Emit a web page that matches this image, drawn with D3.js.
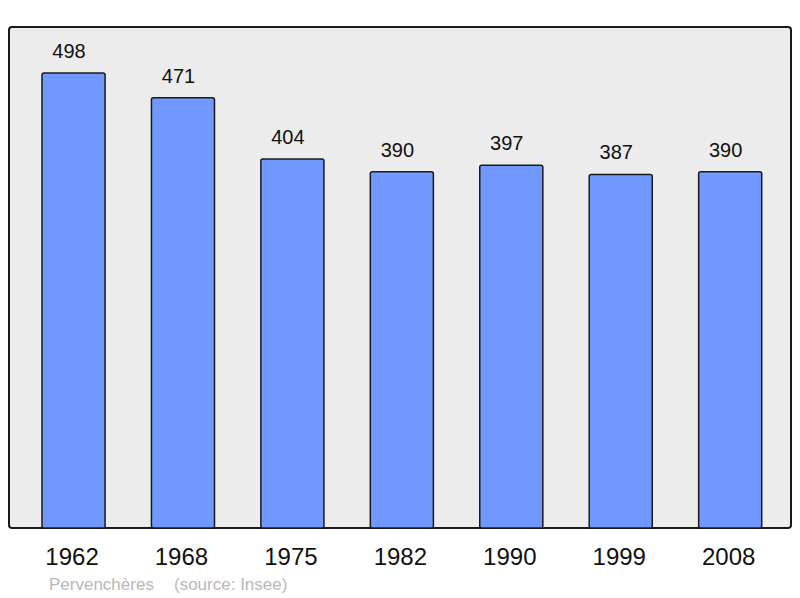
<!DOCTYPE html>
<html><head><meta charset="utf-8">
<script src="https://cdn.jsdelivr.net/npm/d3@7"></script>
<style>body{margin:0;background:#fff}svg{display:block}</style>
</head><body>
<script>
const years = ["1962","1968","1975","1982","1990","1999","2008"];
const population = [498, 471, 404, 390, 397, 387, 390];
const commune = "Pervenchères";
const source = "(source: Insee)";

const W = 800, H = 598;
const svg = d3.select("body").append("svg").attr("width", W).attr("height", H);
const font = "'Liberation Sans', Arial, sans-serif";

const plot = {x0: 9, y0: 27, x1: 791, y1: 528};
svg.append("rect").attr("x", plot.x0).attr("y", plot.y0)
  .attr("width", plot.x1 - plot.x0).attr("height", plot.y1 - plot.y0)
  .attr("rx", 3).attr("fill", "#ececec").attr("stroke", "#1a1a1a").attr("stroke-width", 2);

const x = d3.scaleBand().domain(years).range([18.8, 784.9]).paddingInner(0.4238).paddingOuter(0.2119);
const y = d3.scaleLinear().domain([0, 498]).range([528, 73]);

const data = years.map((yr, i) => ({yr, v: population[i]}));

svg.append("g").selectAll("rect").data(data).join("rect")
  .attr("x", d => x(d.yr)).attr("y", d => y(d.v))
  .attr("width", x.bandwidth()).attr("height", d => y(0) - y(d.v))
  .attr("rx", 2)
  .attr("fill", "#7098ff").attr("stroke", "#1a1a1a").attr("stroke-width", 1.5);

svg.append("g").selectAll("text").data(data).join("text")
  .attr("x", d => x(d.yr) + x.bandwidth() / 2 - 4.5).attr("y", d => y(d.v) - 15)
  .attr("text-anchor", "middle").attr("font-family", font).attr("font-size", 20)
  .attr("fill", "#111").text(d => d.v);

const xAxis = svg.append("g").attr("transform", `translate(-1.5,${plot.y1})`)
  .call(d3.axisBottom(x).tickSize(0).tickPadding(0));
xAxis.select(".domain").remove();
xAxis.selectAll("text").attr("font-family", font).attr("font-size", 24).attr("fill", "#111")
  .attr("y", 37).attr("dy", null);

svg.append("text").attr("x", 49).attr("y", 590)
  .attr("font-family", font).attr("font-size", 17).attr("fill", "#b8b8b8")
  .text(commune);
svg.append("text").attr("x", 174).attr("y", 590)
  .attr("font-family", font).attr("font-size", 17).attr("fill", "#b8b8b8")
  .text(source);
</script>
</body></html>
